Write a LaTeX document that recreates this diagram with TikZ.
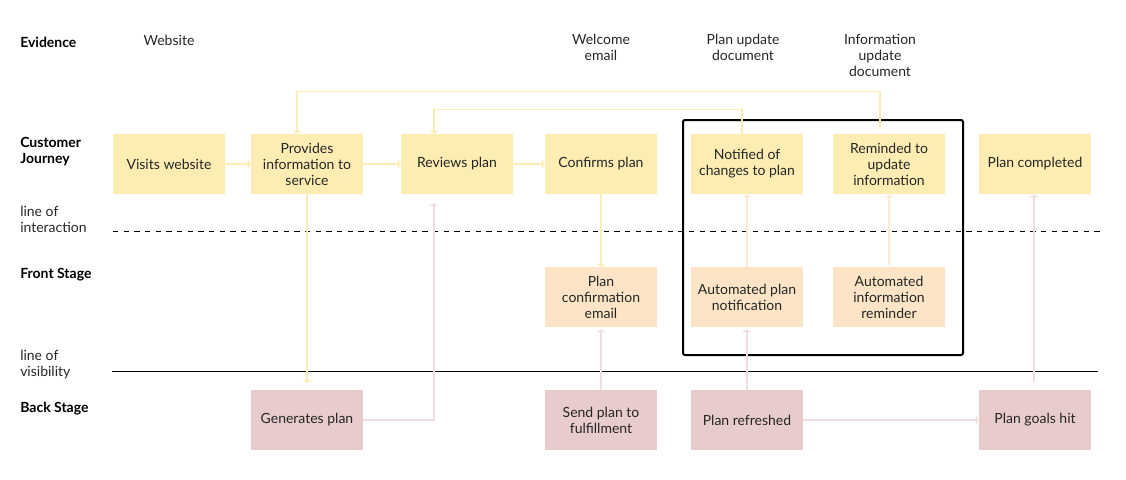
\documentclass[tikz,border=0pt]{standalone}
\usepackage{fontspec}
\setmainfont{Lato}
\usetikzlibrary{arrows.meta}

\definecolor{journeyfill}{HTML}{FDEDB3}
\definecolor{frontfill}{HTML}{FEE4C6}
\definecolor{backfill}{HTML}{E8CBCB}
\definecolor{yellowline}{HTML}{FCEDB5}
\definecolor{peachline}{HTML}{FEE9D3}
\definecolor{pinkline}{HTML}{F0DEDE}
\definecolor{textgray}{HTML}{262626}

\tikzset{
  card/.style={minimum width=84pt, minimum height=45pt, inner sep=0pt, align=center,
    font=\fontsize{10.5}{12}\selectfont, text=textgray},
  journey/.style={card, fill=journeyfill},
  front/.style={card, fill=frontfill},
  back/.style={card, fill=backfill},
  lanelabel/.style={anchor=west, align=left, inner sep=0pt, font=\bfseries\fontsize{10.5}{12}\selectfont},
  linelabel/.style={anchor=west, align=left, inner sep=0pt, font=\fontsize{10.5}{12}\selectfont, text=textgray},
  evidence/.style={align=center, inner sep=0pt, font=\fontsize{10.5}{12}\selectfont, text=textgray},
  flow/.style={line width=1.1pt, -{To[length=2.5pt,width=6pt]}},
  yflow/.style={flow, draw=yellowline},
  pflow/.style={flow, draw=pinkline},
  oflow/.style={flow, draw=peachline},
}

\begin{document}
\begin{tikzpicture}[x=0.75pt, y=-0.75pt]
    % \draw[help lines, step=50] (0,0) grid (1126,479);
    \useasboundingbox (0,0) rectangle (1126,479);

    % lane labels
    \node[lanelabel] (evid) at (20,42) {Evidence};
    \node[lanelabel] (cust) at (20,152) {Customer\\Journey};
    \node[linelabel] (interact) at (20,219) {line of\\interaction};
    \node[lanelabel] (front) at (20,275) {Front Stage};
    \node[linelabel] (visib) at (20,365) {line of\\visibility};
    \node[lanelabel] (backst) at (20,409) {Back Stage};

    % evidence
    \node[evidence] (evweb) at (169,40) {Website};
    \node[evidence] (evwelcome) at (601,47) {Welcome\\email};
    \node[evidence] (evplan) at (743,47) {Plan update\\document};
    \node[evidence] (evinfo) at (880,55) {Information\\update\\document};

    % lines
    \draw[dashed, dash pattern=on 4 off 4, line width=0.6pt] (113,231) -- (1100,231);
    \draw[line width=0.7pt] (112,371) -- (1098,371);
    \draw[line width=1.5pt, rounded corners=1.5pt] (683,120) rectangle (963,355);

    % customer journey
    \node[journey] (visits) at (169,164) {Visits website};
    \node[journey] (provides) at (307,164) {Provides\\information to\\service};
    \node[journey] (reviews) at (457,164) {Reviews plan};
    \node[journey] (confirms) at (601,164) {Confirms plan};
    \node[journey] (notified) at (747,164) {Notified of\\changes to plan};
    \node[journey] (reminded) at (889,164) {Reminded to\\update\\information};
    \node[journey] (completed) at (1035,164) {Plan completed};

    % front stage
    \node[front] (confemail) at (601,297) {Plan\\confirmation\\email};
    \node[front] (autonotif) at (747,297) {Automated plan\\notification};
    \node[front] (autoremind) at (889,297) {Automated\\information\\reminder};

    % back stage
    \node[back] (generates) at (307,420) {Generates plan};
    \node[back] (sendplan) at (601,420) {Send plan to\\fulfillment};
    \node[back] (refreshed) at (747,420) {Plan refreshed};
    \node[back] (goalshit) at (1035,420) {Plan goals hit};

    \coordinate (remtop) at (880,129);
    \coordinate (revlow) at (434,203);

    \draw[yflow] (visits) -- (provides);
    \draw[yflow] (provides) -- (reviews);
    \draw[yflow] (reviews) -- (confirms);
    \draw[yflow] (remtop) |- ([xshift=-7.5pt,yshift=31.5pt]provides.north) -- ([xshift=-7.5pt]provides.north);
    \draw[yflow] ([xshift=-3.75pt]notified.north) -- ++(0,18pt) -| ([xshift=-17.25pt]reviews.north);
    \draw[yflow, shorten >=5pt] (provides.south) -- (generates.north);
    \draw[yflow] (confirms.south) -- (confemail.north);

    \draw[pflow] (generates.east) -| (revlow);
    \draw[pflow, shorten >=1.5pt] (sendplan.north) -- (confemail.south);
    \draw[pflow, shorten >=1.5pt] (refreshed.north) -- (autonotif.south);
    \draw[pflow] (refreshed.east) -- (goalshit.west);
    \draw[pflow, shorten <=6pt] ([xshift=-0.75pt]goalshit.north) -- ([xshift=-0.75pt]completed.south);

    \draw[oflow] (autonotif.north) -- (notified.south);
    \draw[oflow, shorten <=1.5pt] (autoremind.north) -- (reminded.south);

\end{tikzpicture}
\end{document}
